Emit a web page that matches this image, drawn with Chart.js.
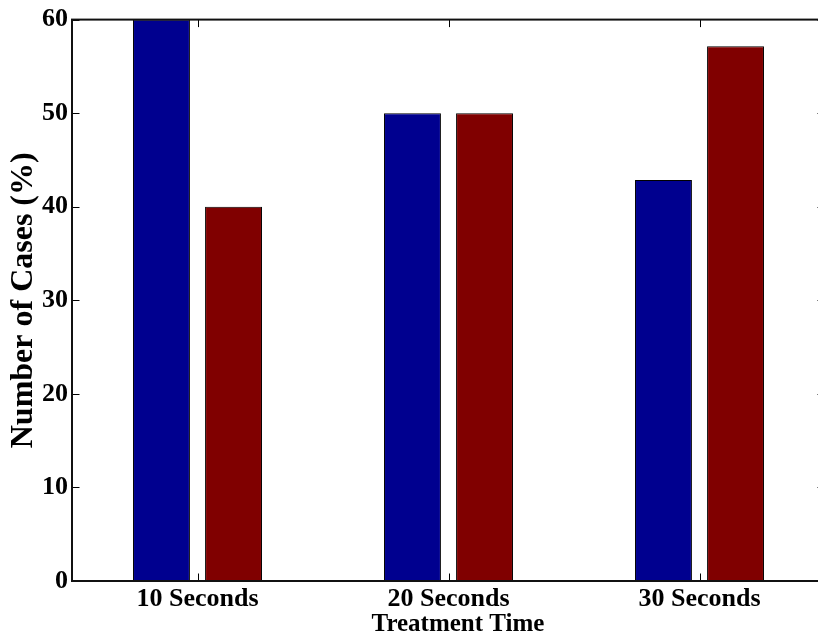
<!DOCTYPE html>
<html>
<head>
<meta charset="utf-8">
<script src="https://cdn.jsdelivr.net/npm/chart.js@4/dist/chart.umd.min.js"></script>
<style>
  html, body { margin: 0; padding: 0; background: #fff; overflow: hidden; width: 818px; height: 638px; }
  #wrap { position: absolute; left: 0; top: 0; width: 826px; height: 638px; }
</style>
</head>
<body>
<div id="wrap"><canvas id="c"></canvas></div>
<script>
// Share of cases per treatment time, two groups
const categories = ['10 Seconds', '20 Seconds', '30 Seconds'];
const firstSeries = [60, 50, 42.86];
const secondSeries = [40, 50, 57.14];
const yTickValues = [0, 10, 20, 30, 40, 50, 60];
const xTitle = 'Treatment Time';
const yTitle = 'Number of Cases (%)';

const FONT = '"Liberation Serif", "Times New Roman", serif';

// Boxed axes with short inward tick marks
const framePlugin = {
  id: 'frame',
  afterDatasetsDraw(chart) {
    const { ctx, chartArea: { left, right, top, bottom }, scales: { x, y } } = chart;
    const tl = 7.5;
    ctx.save();
    ctx.strokeStyle = '#000';
    ctx.lineWidth = 1;
    ctx.beginPath();
    yTickValues.forEach(v => {
      const p = Math.round(y.getPixelForValue(v)) + 0.5;
      ctx.moveTo(left, p); ctx.lineTo(left + tl, p);
      ctx.moveTo(right, p); ctx.lineTo(right - tl, p);
    });
    categories.forEach((c, i) => {
      const p = Math.round(x.getPixelForValue(i)) + 0.5;
      ctx.moveTo(p, bottom); ctx.lineTo(p, bottom - tl);
      ctx.moveTo(p, top); ctx.lineTo(p, top + tl);
    });
    ctx.stroke();
    ctx.lineWidth = 2;
    ctx.strokeStyle = '#111';
    ctx.strokeRect(left, top, right - left, bottom - top);
    ctx.restore();
  }
};

// Axis titles
const titlesPlugin = {
  id: 'axisTitles',
  afterDraw(chart) {
    const { ctx, chartArea: { top, bottom } } = chart;
    ctx.save();
    ctx.fillStyle = '#000';
    ctx.textAlign = 'center';
    ctx.textBaseline = 'alphabetic';
    ctx.font = 'bold 25px ' + FONT;
    ctx.fillText(xTitle, 458, 631);
    ctx.translate(32, (top + bottom) / 2);
    ctx.rotate(-Math.PI / 2);
    ctx.font = 'bold 32px ' + FONT;
    ctx.fillText(yTitle, 0, 0);
    ctx.restore();
  }
};

new Chart(document.getElementById('c'), {
  type: 'bar',
  data: {
    labels: categories,
    datasets: [
      { data: firstSeries, backgroundColor: '#00008F', borderColor: '#000', borderWidth: 1, borderSkipped: false },
      { data: secondSeries, backgroundColor: '#800000', borderColor: '#000', borderWidth: 1, borderSkipped: false }
    ]
  },
  options: {
    responsive: true,
    maintainAspectRatio: false,
    devicePixelRatio: 1,
    animation: false,
    categoryPercentage: 0.574,
    barPercentage: 0.79,
    layout: { padding: { left: 0, top: 19, right: 1, bottom: 0 } },
    plugins: { legend: { display: false }, tooltip: { enabled: false } },
    scales: {
      x: {
        grid: { display: false, drawTicks: false },
        border: { display: false },
        ticks: { color: '#000', font: { family: FONT, size: 26, weight: 'bold' }, padding: 3, maxRotation: 0 },
        afterFit(scale) { scale.height = 57; }
      },
      y: {
        min: 0, max: 60,
        grid: { display: false, drawTicks: false },
        border: { display: false },
        ticks: { stepSize: 10, color: '#000', font: { family: FONT, size: 26, weight: 'bold' }, padding: 4 },
        afterFit(scale) { scale.width = 72; }
      }
    }
  },
  plugins: [framePlugin, titlesPlugin]
});
</script>
</body>
</html>
